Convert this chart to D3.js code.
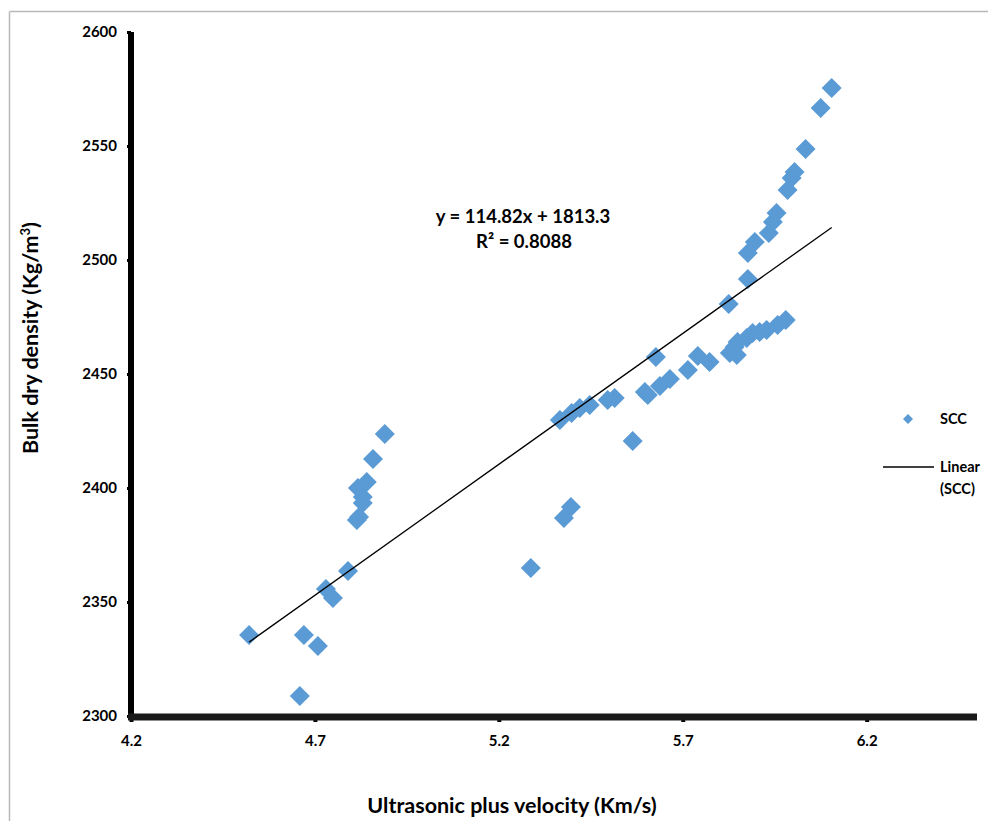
<!DOCTYPE html>
<html>
<head>
<meta charset="utf-8">
<script src="https://cdn.jsdelivr.net/npm/d3@7"></script>
<style>
  html, body { margin: 0; padding: 0; background: #fff; }
  svg { display: block; }
  text { font-family: Lato, "Open Sans", sans-serif; font-weight: bold; fill: #000; }
</style>
</head>
<body>
<svg id="chart" width="988" height="821"></svg>
<script>
// Ultrasonic pulse velocity (km/s) against bulk dry density (kg/m³), SCC specimens
const velocity = [
  4.521, 4.670, 4.659, 4.708, 4.730, 4.749, 4.790, 4.814, 4.820, 4.830,
  4.830, 4.817, 4.841, 4.858, 4.890,
  5.287, 5.377, 5.396, 5.366, 5.398, 5.420, 5.447, 5.496, 5.515, 5.564,
  5.597, 5.605, 5.627, 5.638, 5.665, 5.714, 5.741, 5.773,
  5.828, 5.847, 5.841, 5.849, 5.874, 5.890, 5.909, 5.928, 5.958, 5.980,
  5.825, 5.877, 5.877, 5.896, 5.934, 5.945, 5.955, 5.985, 5.996, 6.004,
  6.034, 6.075, 6.105
];
const density = [
  2335.5, 2335.5, 2308.8, 2330.7, 2355.7, 2351.8, 2363.6, 2386.0, 2387.3, 2393.4,
  2396.1, 2400.0, 2402.6, 2412.7, 2423.7,
  2364.9, 2386.8, 2391.7, 2429.8, 2432.9, 2435.1, 2436.4, 2438.6, 2439.5, 2420.6,
  2442.1, 2440.8, 2457.5, 2444.7, 2447.8, 2451.8, 2457.9, 2455.3,
  2459.2, 2458.3, 2461.8, 2464.0, 2465.8, 2468.0, 2468.4, 2469.3, 2471.5, 2473.7,
  2480.7, 2491.7, 2503.1, 2507.9, 2511.8, 2516.7, 2520.6, 2530.7, 2536.0, 2538.6,
  2548.7, 2566.7, 2575.4
];
const xTicks = [4.2, 4.7, 5.2, 5.7, 6.2];
const yTicks = [2300, 2350, 2400, 2450, 2500, 2550, 2600];
const slope = 114.82;
const intercept = 1813.3;
const rSquared = "0.8088";
const seriesName = "SCC";

const svg = d3.select("#chart");
const x = d3.scaleLinear().domain([4.2, 6.5]).range([131, 977]);
const y = d3.scaleLinear().domain([2300, 2600]).range([716, 32]);

// frame lines of the chart area
svg.append("line").attr("x1", 9.5).attr("x2", 988).attr("y1", 11.5).attr("y2", 11.5)
  .attr("stroke", "#b8b8b8").attr("stroke-width", 1.5);
svg.append("line").attr("x1", 9.5).attr("x2", 9.5).attr("y1", 11.5).attr("y2", 821)
  .attr("stroke", "#b8b8b8").attr("stroke-width", 1.5);

// points
const diamond = r => `M0,${-r}L${r},0L0,${r}L${-r},0Z`;
svg.append("g").selectAll("path").data(velocity).join("path")
  .attr("d", diamond(10))
  .attr("transform", (d, i) => `translate(${x(d)},${y(density[i])})`)
  .attr("fill", "#5B9BD5");

// linear trendline over the data range
const xMin = d3.min(velocity), xMax = d3.max(velocity);
svg.append("line")
  .attr("x1", x(xMin)).attr("y1", y(slope * xMin + intercept))
  .attr("x2", x(xMax)).attr("y2", y(slope * xMax + intercept))
  .attr("stroke", "#000").attr("stroke-width", 1.3);

// axes
const yAxis = d3.axisLeft(y).tickValues(yTicks).tickSize(4).tickPadding(10).tickFormat(d3.format("d"));
const gy = svg.append("g").attr("transform", "translate(131,0)").call(yAxis);
gy.select(".domain").remove();
gy.selectAll(".tick line").attr("stroke", "#000").attr("stroke-width", 3);
gy.selectAll(".tick text").attr("font-size", 15).attr("font-family", "Lato, sans-serif").attr("font-weight", "bold");

const xAxis = d3.axisBottom(x).tickValues(xTicks).tickSize(6).tickPadding(13).tickFormat(d3.format(".1f"));
const gx = svg.append("g").attr("transform", "translate(0,716)").call(xAxis);
gx.select(".domain").remove();
gx.selectAll(".tick line").attr("stroke", "#000").attr("stroke-width", 4);
gx.selectAll(".tick text").attr("font-size", 15).attr("font-family", "Lato, sans-serif").attr("font-weight", "bold");

svg.append("line").attr("x1", 131).attr("x2", 131).attr("y1", 32).attr("y2", 720)
  .attr("stroke", "#000").attr("stroke-width", 6);
svg.append("line").attr("x1", 128).attr("x2", 977).attr("y1", 717).attr("y2", 717)
  .attr("stroke", "#1a1a1a").attr("stroke-width", 7);

// axis titles
svg.append("text").attr("x", 512).attr("y", 813).attr("text-anchor", "middle")
  .attr("font-size", 21.5).text("Ultrasonic plus velocity (Km/s)");
const yt = svg.append("text").attr("transform", "translate(38,338) rotate(-90)")
  .attr("text-anchor", "middle").attr("font-size", 21.5);
yt.append("tspan").text("Bulk dry density (Kg/m");
yt.append("tspan").attr("font-size", 13).attr("dy", -8).text("3");
yt.append("tspan").attr("dy", 8).text(")");

// trendline equation
svg.append("text").attr("x", 523).attr("y", 223).attr("text-anchor", "middle")
  .attr("font-size", 18.5).text(`y = ${slope}x + ${intercept}`);
svg.append("text").attr("x", 524).attr("y", 248).attr("text-anchor", "middle")
  .attr("font-size", 18.5).text(`R² = ${rSquared}`);

// legend
svg.append("path").attr("d", diamond(5)).attr("transform", "translate(908,419)").attr("fill", "#5B9BD5");
svg.append("text").attr("x", 940).attr("y", 424).attr("font-size", 14.5).text(seriesName);
svg.append("line").attr("x1", 883).attr("x2", 934).attr("y1", 467).attr("y2", 467)
  .attr("stroke", "#000").attr("stroke-width", 1.3);
svg.append("text").attr("x", 940).attr("y", 472).attr("font-size", 14.5).text("Linear");
svg.append("text").attr("x", 940).attr("y", 494).attr("font-size", 14.5).text(`(${seriesName})`);
</script>
</body>
</html>
